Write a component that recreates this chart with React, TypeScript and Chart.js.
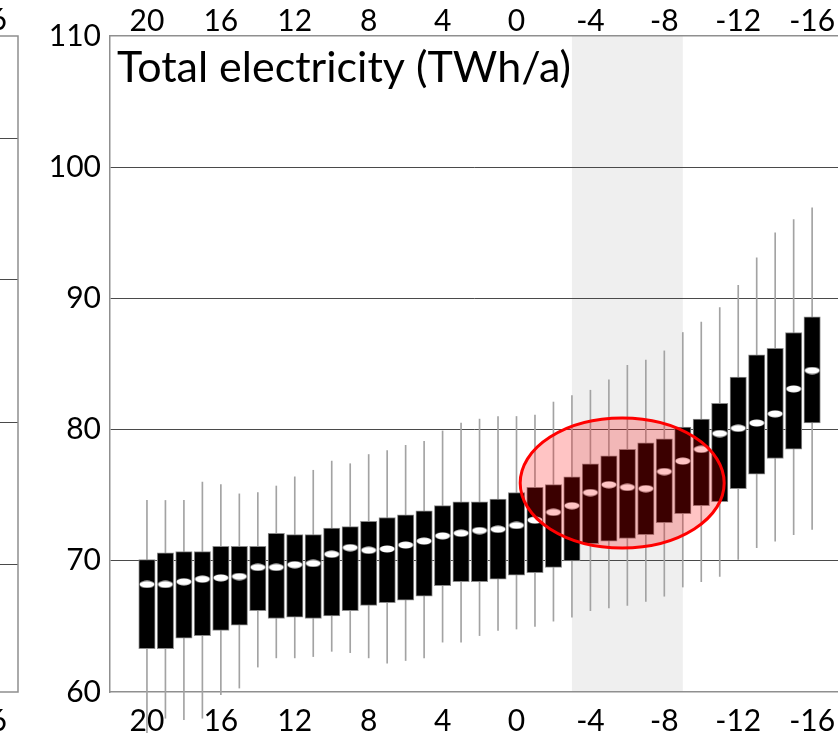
import { useEffect, useRef } from "react";
import { Chart, registerables } from "chart.js";

Chart.register(...registerables);

// Outdoor temperature (°C), one box per degree
const TEMPERATURES = [
  20, 19, 18, 17, 16, 15, 14, 13, 12, 11, 10, 9, 8, 7, 6, 5, 4, 3, 2, 1, 0,
  -1, -2, -3, -4, -5, -6, -7, -8, -9, -10, -11, -12, -13, -14, -15, -16,
];

// Lower and upper quartile of the annual electricity demand (TWh/a)
const BOX_LOW = [
  63.3, 63.3, 64.1, 64.3, 64.7, 65.1, 66.2, 65.6, 65.7, 65.6, 65.8, 66.2, 66.6,
  66.8, 67.0, 67.3, 68.1, 68.4, 68.4, 68.6, 68.9, 69.1, 69.5, 70.0, 71.3, 71.5,
  71.7, 72.0, 72.9, 73.6, 74.2, 74.5, 75.5, 76.6, 77.8, 78.5, 80.5,
];
const BOX_HIGH = [
  70.1, 70.6, 70.7, 70.7, 71.1, 71.1, 71.1, 72.1, 72.0, 72.0, 72.5, 72.6, 73.0,
  73.3, 73.5, 73.8, 74.2, 74.5, 74.5, 74.7, 75.2, 75.6, 75.8, 76.4, 77.4, 78.0,
  78.5, 79.0, 79.3, 80.2, 80.8, 82.0, 84.0, 85.7, 86.2, 87.4, 88.6,
];
const MEDIAN = [
  68.2, 68.2, 68.4, 68.6, 68.7, 68.8, 69.5, 69.5, 69.7, 69.8, 70.5, 71.0, 70.8,
  70.9, 71.2, 71.5, 71.9, 72.1, 72.3, 72.4, 72.7, 73.1, 73.7, 74.2, 75.2, 75.8,
  75.6, 75.5, 76.8, 77.6, 78.5, 79.7, 80.1, 80.5, 81.2, 83.1, 84.5,
];
// Full range (min / max)
const WHISKER_LOW = [
  56.9, 58.0, 57.9, 58.0, 59.8, 60.3, 61.9, 62.6, 62.6, 62.7, 63.1, 63.0, 62.6,
  62.2, 62.4, 62.6, 63.8, 63.8, 64.3, 64.7, 64.8, 65.0, 65.4, 65.7, 66.2, 66.4,
  66.6, 66.9, 67.3, 68.0, 68.4, 68.8, 70.1, 71.0, 71.5, 72.0, 72.4,
];
const WHISKER_HIGH = [
  74.6, 74.6, 74.6, 76.0, 75.8, 75.1, 75.2, 75.7, 76.4, 76.9, 77.6, 77.4, 78.1,
  78.4, 78.8, 79.1, 79.9, 80.5, 80.8, 81.0, 81.0, 81.1, 82.1, 82.6, 83.0, 83.8,
  84.9, 85.3, 86.0, 87.4, 88.2, 89.3, 91.0, 93.1, 95.0, 96.0, 96.9,
];

const X_TICKS = [20, 16, 12, 8, 4, 0, -4, -8, -12, -16];
const Y_TICKS = [60, 70, 80, 90, 100, 110];
const X_MIN = -17.4;
const X_MAX = 22;
const Y_MIN = 60;
const Y_MAX = 110;

const TITLE = "Total electricity (TWh/a)";
const NEIGHBOUR_LABEL = "-16";

// Design temperature band and the highlighted cluster (data units)
const SHADED_BAND = [-3, -9];
const HIGHLIGHT = { x: -5.72, y: 75.93, rx: 5.52, ry: 4.95 };

const FONT_FAMILY = "Lato, 'Open Sans', sans-serif";
const AXIS_GREY = "#8f8f8f";
const GRID_DARK = "#4a4a4a";

function makeMedianMarker(): HTMLCanvasElement {
  const c = document.createElement("canvas");
  c.width = 16;
  c.height = 8;
  const g = c.getContext("2d")!;
  g.fillStyle = "#ffffff";
  g.beginPath();
  g.ellipse(8, 4, 7.5, 3.4, 0, 0, Math.PI * 2);
  g.fill();
  return c;
}

const decorations = {
  id: "decorations",
  beforeDraw(chart: any) {
    const { ctx, chartArea, scales } = chart;
    const a = scales.x.getPixelForValue(SHADED_BAND[0]);
    const b = scales.x.getPixelForValue(SHADED_BAND[1]);
    ctx.save();
    ctx.fillStyle = "#efefef";
    ctx.fillRect(Math.min(a, b), chartArea.top, Math.abs(b - a), chartArea.bottom - chartArea.top);
    ctx.restore();
  },
  afterDatasetsDraw(chart: any) {
    const { ctx, scales } = chart;
    const cx = scales.x.getPixelForValue(HIGHLIGHT.x);
    const cy = scales.y.getPixelForValue(HIGHLIGHT.y);
    const rx = Math.abs(scales.x.getPixelForValue(HIGHLIGHT.x + HIGHLIGHT.rx) - cx);
    const ry = Math.abs(scales.y.getPixelForValue(HIGHLIGHT.y + HIGHLIGHT.ry) - cy);
    ctx.save();
    ctx.beginPath();
    ctx.ellipse(cx, cy, rx, ry, 0, 0, Math.PI * 2);
    ctx.fillStyle = "rgba(255, 0, 0, 0.23)";
    ctx.fill();
    ctx.lineWidth = 3;
    ctx.strokeStyle = "#ff0000";
    ctx.stroke();
    ctx.restore();
  },
  afterDraw(chart: any) {
    const { ctx, chartArea } = chart;
    ctx.save();
    // panel title inside the plot
    ctx.fillStyle = "#000";
    ctx.font = `43px ${FONT_FAMILY}`;
    ctx.textAlign = "left";
    ctx.textBaseline = "alphabetic";
    ctx.fillText(TITLE, chartArea.left + 7, chartArea.top + 46);

    // right edge of the neighbouring panel
    const edge = chartArea.left - 92;
    const h = chartArea.bottom - chartArea.top;
    ctx.strokeStyle = GRID_DARK;
    ctx.lineWidth = 1;
    [0.155, 0.37, 0.588, 0.805].forEach((f) => {
      const y = Math.round(chartArea.top + f * h) + 0.5;
      ctx.beginPath();
      ctx.moveTo(0, y);
      ctx.lineTo(edge, y);
      ctx.stroke();
    });
    ctx.strokeStyle = AXIS_GREY;
    ctx.lineWidth = 1.5;
    ctx.beginPath();
    ctx.moveTo(0, chartArea.top);
    ctx.lineTo(edge, chartArea.top);
    ctx.lineTo(edge, chartArea.bottom);
    ctx.lineTo(0, chartArea.bottom);
    ctx.stroke();
    ctx.font = `30px ${FONT_FAMILY}`;
    ctx.textAlign = "right";
    ctx.textBaseline = "middle";
    ctx.fillText(NEIGHBOUR_LABEL, 7, chartArea.top - 15.5);
    ctx.fillText(NEIGHBOUR_LABEL, 7, chartArea.bottom + 29);
    ctx.restore();
  },
};

export default function App() {
  const canvasRef = useRef<HTMLCanvasElement | null>(null);

  useEffect(() => {
    const canvas = canvasRef.current;
    if (!canvas) return;
    const marker = makeMedianMarker();
    const tickFont = { family: FONT_FAMILY, size: 30, lineHeight: 1 };

    const xCommon = {
      type: "linear" as const,
      reverse: true,
      min: X_MIN,
      max: X_MAX,
      offset: false,
      afterBuildTicks: (s: any) => {
        s.ticks = X_TICKS.map((v) => ({ value: v }));
      },
      grid: { display: false, drawTicks: false },
      border: { display: true, color: AXIS_GREY, width: 1.5 },
    };

    const fixHeight = (h: number) => (s: any) => {
      s.height = h;
      s.paddingLeft = 0;
      s.paddingRight = 0;
    };

    const chart = new Chart(canvas, {
      type: "bar",
      data: {
        datasets: [
          {
            type: "scatter",
            label: "Median",
            data: TEMPERATURES.map((t, i) => ({ x: t, y: MEDIAN[i] })),
            pointStyle: marker as any,
            pointRadius: 4,
            order: 0,
          } as any,
          {
            type: "bar",
            label: "Interquartile range",
            data: TEMPERATURES.map((t, i) => ({ x: t, y: [BOX_LOW[i], BOX_HIGH[i]] })),
            backgroundColor: "#000000",
            borderColor: "#8a8a8a",
            borderWidth: 1,
            borderSkipped: false,
            grouped: false,
            barPercentage: 1,
            categoryPercentage: 1,
            maxBarThickness: 16.4,
            order: 1,
          } as any,
          {
            type: "bar",
            label: "Range",
            data: TEMPERATURES.map((t, i) => ({ x: t, y: [WHISKER_LOW[i], WHISKER_HIGH[i]] })),
            backgroundColor: "#a3a3a3",
            borderWidth: 0,
            grouped: false,
            barPercentage: 1,
            categoryPercentage: 1,
            maxBarThickness: 1,
            clip: false,
            order: 2,
          } as any,
        ],
      },
      options: {
        responsive: false,
        animation: false,
        layout: { padding: 0, autoPadding: false },
        plugins: { legend: { display: false }, tooltip: { enabled: false } },
        scales: {
          x: {
            ...xCommon,
            position: "bottom",
            afterFit: fixHeight(46),
            ticks: {
              font: tickFont,
              color: "#000",
              padding: 14,
              maxRotation: 0,
              autoSkip: false,
              callback: (v: any) => String(v),
            },
          },
          xTop: {
            ...xCommon,
            position: "top",
            afterFit: fixHeight(36),
            ticks: {
              font: tickFont,
              color: "#000",
              padding: 0,
              maxRotation: 0,
              autoSkip: false,
              callback: (v: any) => String(v),
            },
          },
          y: {
            type: "linear",
            min: Y_MIN,
            max: Y_MAX,
            afterBuildTicks: (s: any) => {
              s.ticks = Y_TICKS.map((v) => ({ value: v }));
            },
            afterFit: (s: any) => {
              s.width = 110;
              s.paddingTop = 0;
              s.paddingBottom = 0;
            },
            grid: {
              drawTicks: false,
              lineWidth: 1,
              color: (c: any) =>
                c.tick && (c.tick.value === Y_MIN || c.tick.value === Y_MAX) ? "rgba(0,0,0,0)" : GRID_DARK,
            },
            border: { display: true, color: AXIS_GREY, width: 1.5 },
            ticks: { font: tickFont, color: "#000", padding: 9 },
          },
        },
      } as any,
      plugins: [decorations],
    });

    return () => chart.destroy();
  }, []);

  return (
    <div style={{ position: "fixed", left: 0, top: 0, width: 838, height: 738, background: "#fff" }}>
      <canvas ref={canvasRef} width={838} height={738} style={{ display: "block" }} />
    </div>
  );
}
